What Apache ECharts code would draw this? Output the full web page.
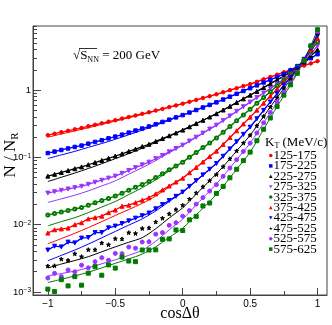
<!DOCTYPE html>
<html>
<head>
<meta charset="utf-8">
<script src="https://cdn.jsdelivr.net/npm/echarts@6/dist/echarts.min.js"></script>
<style>
html, body { margin: 0; padding: 0; background: #fff; }
#main { width: 332px; height: 325px; }
</style>
</head>
<body>
<div id="main"></div>
<script>
// cos(delta theta) of the measured points and of the fit curves
const cosPts = [-1, -0.95, -0.9, -0.85, -0.8, -0.75, -0.7, -0.65, -0.6, -0.55, -0.5, -0.45, -0.4, -0.35, -0.3, -0.25, -0.2, -0.15, -0.1, -0.05,
  0, 0.05, 0.1, 0.15, 0.2, 0.25, 0.3, 0.35, 0.4, 0.45, 0.5, 0.55, 0.6, 0.65, 0.7, 0.75, 0.8, 0.85, 0.9, 0.95, 1];
const cosFit = [-1, -0.9, -0.8, -0.7, -0.6, -0.5, -0.4, -0.3, -0.2, -0.1, 0, 0.1, 0.2, 0.3, 0.4, 0.5, 0.6, 0.7, 0.8, 0.9, 1];

// N / N_R, one array per kT bin (MeV/c)
const pts125 = [0.214,0.225,0.237,0.249,0.262,0.275,0.290,0.306,0.322,0.340,0.358,0.378,0.399,0.421,0.445,0.469,0.498,0.527,0.560,0.593,0.630,0.671,0.716,0.764,0.815,0.869,0.931,1.00,1.07,1.15,1.23,1.33,1.45,1.57,1.70,1.85,2.00,2.15,2.32,2.50,2.70];
const pts175 = [0.116,0.122,0.129,0.136,0.143,0.150,0.160,0.170,0.180,0.192,0.204,0.218,0.234,0.251,0.269,0.288,0.311,0.337,0.364,0.394,0.426,0.465,0.507,0.553,0.604,0.659,0.726,0.800,0.883,0.973,1.07,1.18,1.30,1.43,1.57,1.73,1.98,2.28,2.61,2.99,3.43];
const pts225 = [0.0527,0.0561,0.0598,0.0637,0.0679,0.0723,0.0778,0.0838,0.0902,0.0971,0.105,0.113,0.123,0.133,0.145,0.157,0.173,0.191,0.210,0.231,0.255,0.285,0.319,0.357,0.399,0.447,0.507,0.575,0.655,0.743,0.843,0.959,1.09,1.25,1.42,1.61,1.87,2.18,2.63,3.24,3.98];
const pts275 = [0.0295,0.0309,0.0324,0.0339,0.0355,0.0372,0.0398,0.0428,0.0458,0.0492,0.0527,0.0581,0.0640,0.0705,0.0775,0.0851,0.0957,0.107,0.121,0.136,0.152,0.175,0.200,0.230,0.264,0.302,0.353,0.414,0.484,0.568,0.664,0.776,0.906,1.06,1.24,1.45,1.74,2.14,2.69,3.47,4.57];
const pts325 = [0.0139,0.0147,0.0154,0.0163,0.0171,0.0180,0.0195,0.0211,0.0228,0.0246,0.0266,0.0294,0.0325,0.0359,0.0397,0.0439,0.0501,0.0572,0.0653,0.0745,0.0851,0.101,0.118,0.140,0.164,0.194,0.237,0.288,0.352,0.429,0.522,0.637,0.776,0.948,1.16,1.41,1.74,2.19,2.82,3.80,5.25];
const pts375 = [0.00750,0.00840,0.00865,0.00890,0.00998,0.0107,0.0122,0.0127,0.0134,0.0151,0.0165,0.0188,0.0195,0.0212,0.0231,0.0251,0.0287,0.0329,0.0376,0.0431,0.0492,0.0592,0.0711,0.0855,0.103,0.124,0.156,0.197,0.249,0.315,0.397,0.505,0.641,0.815,1.04,1.32,1.66,2.14,2.88,4.07,5.89];
const pts425 = [0.00420,0.00479,0.00467,0.00550,0.00536,0.00631,0.00644,0.00762,0.00764,0.00897,0.00953,0.0104,0.0114,0.0125,0.0136,0.0149,0.0172,0.0199,0.0229,0.0264,0.0305,0.0371,0.0451,0.0550,0.0668,0.0813,0.104,0.134,0.171,0.220,0.282,0.376,0.501,0.667,0.889,1.19,1.55,2.09,2.88,4.27,6.46];
const pts475 = [0.00243,0.00245,0.00308,0.00295,0.00370,0.00335,0.00425,0.00424,0.00535,0.00504,0.00620,0.00614,0.00762,0.00742,0.00879,0.00897,0.0110,0.0125,0.0145,0.0168,0.0195,0.0241,0.0297,0.0366,0.0452,0.0557,0.0730,0.0955,0.125,0.164,0.214,0.296,0.408,0.562,0.776,1.07,1.45,2.00,2.88,4.37,6.92];
const pts525 = [0.00161,0.00189,0.00169,0.00212,0.00199,0.00250,0.00228,0.00282,0.00323,0.00296,0.00374,0.00371,0.00465,0.00447,0.00552,0.00558,0.00723,0.00762,0.00978,0.0107,0.0134,0.0162,0.0202,0.0253,0.0316,0.0394,0.0524,0.0695,0.0925,0.123,0.163,0.231,0.327,0.465,0.658,0.933,1.29,1.86,2.82,4.47,7.41];
const pts575 = [0.00110,0.00101,0.00152,0.00123,0.00169,0.00126,0.00190,0.00238,0.00177,0.00252,0.00226,0.00330,0.00288,0.00282,0.00420,0.00420,0.00422,0.00606,0.00614,0.00835,0.00818,0.0118,0.0133,0.0190,0.0210,0.0291,0.0371,0.0498,0.0667,0.0895,0.120,0.177,0.262,0.386,0.571,0.843,1.20,1.78,2.75,4.57,7.94];

// fit curves
const fit125 = [0.200,0.223,0.248,0.276,0.309,0.346,0.388,0.436,0.491,0.556,0.630,0.716,0.815,0.931,1.07,1.23,1.45,1.70,2.00,2.32,2.70];
const fit175 = [0.0965,0.109,0.123,0.141,0.161,0.186,0.217,0.254,0.300,0.357,0.426,0.507,0.604,0.726,0.883,1.07,1.30,1.57,1.98,2.61,3.43];
const fit225 = [0.0438,0.0507,0.0586,0.0684,0.0807,0.0958,0.114,0.137,0.167,0.206,0.255,0.319,0.399,0.507,0.655,0.843,1.09,1.42,1.87,2.63,3.98];
const fit275 = [0.0214,0.0242,0.0274,0.0318,0.0377,0.0448,0.0563,0.0704,0.0898,0.117,0.152,0.200,0.264,0.353,0.484,0.664,0.906,1.24,1.74,2.69,4.57];
const fit325 = [0.00962,0.0111,0.0127,0.0151,0.0183,0.0221,0.0280,0.0355,0.0465,0.0629,0.0851,0.118,0.164,0.237,0.352,0.522,0.776,1.16,1.74,2.82,5.25];
const fit375 = [0.00519,0.00621,0.00744,0.00904,0.0111,0.0137,0.0168,0.0207,0.0267,0.0362,0.0492,0.0711,0.103,0.156,0.249,0.397,0.641,1.04,1.66,2.88,5.89];
const fit425 = [0.00291,0.00349,0.00420,0.00513,0.00638,0.00793,0.00984,0.0122,0.0160,0.0221,0.0305,0.0451,0.0668,0.104,0.171,0.282,0.501,0.889,1.55,2.88,6.46];
const fit475 = [0.00227,0.00260,0.00293,0.00334,0.00395,0.00468,0.00548,0.00641,0.00870,0.0126,0.0178,0.0284,0.0452,0.0730,0.125,0.214,0.408,0.776,1.45,2.88,6.92];
const fit525 = [0.00173,0.00188,0.00204,0.00229,0.00262,0.00300,0.00350,0.00418,0.00567,0.00838,0.0121,0.0197,0.0316,0.0524,0.0925,0.163,0.327,0.658,1.29,2.82,7.41];
const fit575 = [0.00138,0.00154,0.00173,0.00196,0.00228,0.00266,0.00310,0.00365,0.00469,0.00646,0.00889,0.0140,0.0221,0.0371,0.0667,0.120,0.262,0.571,1.20,2.75,7.94];

// tick positions
const xMajor = [-1, -0.5, 0, 0.5, 1];
const xMinor = [-0.75, -0.25, 0.25, 0.75];
const yMajor = [0.001, 0.01, 0.1, 1];
const yMinor = [0.002,0.003,0.004,0.005,0.006,0.007,0.008,0.009,0.02,0.03,0.04,0.05,0.06,0.07,0.08,0.09,0.2,0.3,0.4,0.5,0.6,0.7,0.8,0.9,2,3,4,5,6,7,8,9];

const triDown = 'path://M0,0 L10,0 L5,9 Z';
const star = 'path://M5,0 L6.2,3.6 L10,3.6 L6.9,5.8 L8.1,9.5 L5,7.2 L1.9,9.5 L3.1,5.8 L0,3.6 L3.8,3.6 Z';

// dense: points close enough to read as a band, drawn joined
const bins = [
  { name: '125-175', pts: pts125, fit: fit125, color: '#ff0000', symbol: 'circle', size: 3.5, dense: true },
  { name: '175-225', pts: pts175, fit: fit175, color: '#0000ff', symbol: 'rect', size: 3.5, dense: true },
  { name: '225-275', pts: pts225, fit: fit225, color: '#000000', symbol: 'triangle', size: 4, dense: true },
  { name: '275-325', pts: pts275, fit: fit275, color: '#9933ff', symbol: triDown, size: 4, dense: true },
  { name: '325-375', pts: pts325, fit: fit325, color: '#007a00', symbol: 'emptyCircle', size: 3, dense: true },
  { name: '375-425', pts: pts375, fit: fit375, color: '#ff0000', symbol: 'triangle', size: 4, dense: true },
  { name: '425-475', pts: pts425, fit: fit425, color: '#0000ff', symbol: triDown, size: 4, dense: true },
  { name: '475-525', pts: pts475, fit: fit475, color: '#000000', symbol: star, size: 4, dense: false },
  { name: '525-575', pts: pts525, fit: fit525, color: '#9933ff', symbol: 'circle', size: 4, dense: false },
  { name: '575-625', pts: pts575, fit: fit575, color: '#007a00', symbol: 'rect', size: 4, dense: false }
];

const serif = '"Liberation Serif", "DejaVu Serif", serif';
const sans = '"Liberation Sans", Arial, sans-serif';

function minus(v) {
  return v < 0 ? '\u2212' + (-v) : String(v);
}

function powLabel(v) {
  const e = Math.round(Math.log10(v));
  if (e === 0) return '{b|1}';
  return '{b|10}{s|' + minus(e) + '}';
}

const series = [];
bins.forEach(b => {
  series.push({
    name: 'fit ' + b.name,
    type: 'line',
    smooth: 0.3,
    showSymbol: false,
    silent: true,
    z: 2,
    lineStyle: { color: b.color, width: 1 },
    data: cosFit.map((c, i) => [c, b.fit[i]])
  });
});
bins.forEach(b => {
  series.push({
    name: b.name,
    type: 'line',
    symbol: b.symbol,
    symbolSize: b.size,
    showAllSymbol: true,
    z: 3,
    lineStyle: { color: b.color, width: b.dense ? 1.3 : 0 },
    itemStyle: { color: b.color, borderColor: b.color, opacity: 1 },
    data: cosPts.map((c, i) => [c, b.pts[i]])
  });
});

const chart = echarts.init(document.getElementById('main'), null, { renderer: 'canvas' });
chart.setOption({
  animation: false,
  backgroundColor: '#fff',
  textStyle: { fontFamily: sans },
  grid: {
    left: 33, right: 5, top: 26, bottom: 30,
    outerBoundsMode: 'none', containLabel: false,
    show: true, borderColor: '#444', borderWidth: 1, backgroundColor: 'transparent'
  },
  legend: {
    data: bins.map(b => ({ name: b.name, icon: b.symbol === 'emptyCircle' ? 'circle' : b.symbol })),
    orient: 'vertical',
    left: 269, top: 149, padding: 0,
    itemWidth: 3.5, itemHeight: 3.5, itemGap: -2.6,
    selectedMode: false,
    textStyle: { fontFamily: serif, fontSize: 13, color: '#000', padding: [0, 0, 0, -4] }
  },
  xAxis: [{
    type: 'value', min: -1.11, max: 1.07, position: 'bottom',
    name: 'cos\u0394\u03b8', nameLocation: 'middle', nameGap: 11, nameMoveOverlap: false,
    nameTextStyle: { fontFamily: serif, fontSize: 16, color: '#000' },
    axisLine: { onZero: false, lineStyle: { color: '#444' } },
    axisTick: { inside: true, length: 7, customValues: xMajor, lineStyle: { color: '#444' } },
    axisLabel: { customValues: xMajor, margin: 4, fontSize: 10, color: '#000', formatter: minus },
    splitLine: { show: false }
  }, {
    type: 'value', min: -1.11, max: 1.07, position: 'bottom',
    axisLine: { show: false, onZero: false },
    axisTick: { inside: true, length: 4, customValues: xMinor, lineStyle: { color: '#444' } },
    axisLabel: { show: false },
    splitLine: { show: false }
  }],
  yAxis: [{
    type: 'log', logBase: 10, min: 0.0009, max: 9, position: 'left',
    axisLine: { show: true, onZero: false, lineStyle: { color: '#444' } },
    axisTick: { show: true, inside: true, length: 8, customValues: yMajor, lineStyle: { color: '#444' } },
    axisLabel: {
      customValues: yMajor, margin: 2, color: '#000', formatter: powLabel,
      rich: {
        b: { fontSize: 9.5, fontFamily: sans },
        s: { fontSize: 6.5, fontFamily: sans, verticalAlign: 'top' }
      }
    },
    splitLine: { show: false }
  }, {
    type: 'log', logBase: 10, min: 0.0009, max: 9, position: 'left',
    axisLine: { show: false, onZero: false },
    axisTick: { show: true, inside: true, length: 4, customValues: yMinor, lineStyle: { color: '#444' } },
    axisLabel: { show: false },
    splitLine: { show: false }
  }],
  graphic: [
    {
      type: 'text', x: 11, y: 155, rotation: Math.PI / 2,
      style: {
        text: '{n|N / N}{r|R}', align: 'center', verticalAlign: 'middle',
        rich: {
          n: { fontFamily: serif, fontSize: 17, fill: '#000', lineHeight: 20, verticalAlign: 'middle' },
          r: { fontFamily: serif, fontSize: 11, fill: '#000', lineHeight: 20, verticalAlign: 'bottom' }
        }
      }
    },
    {
      type: 'text', x: 73, y: 56,
      style: {
        text: '{t|\u221a}{t|S}{s|NN}{t| = 200 GeV}', verticalAlign: 'middle',
        rich: {
          t: { fontFamily: serif, fontSize: 13, fill: '#000', lineHeight: 16, verticalAlign: 'middle' },
          s: { fontFamily: serif, fontSize: 8, fill: '#000', lineHeight: 16, verticalAlign: 'bottom' }
        }
      }
    },
    {
      type: 'line', shape: { x1: 79, y1: 48.5, x2: 97, y2: 48.5 },
      style: { stroke: '#000', lineWidth: 0.8 }
    },
    {
      type: 'text', x: 265, y: 143,
      style: {
        text: '{t|K}{s|T}{t| (MeV/c)}', verticalAlign: 'middle',
        rich: {
          t: { fontFamily: serif, fontSize: 13, fill: '#000', lineHeight: 14, verticalAlign: 'middle' },
          s: { fontFamily: serif, fontSize: 8, fill: '#000', lineHeight: 14, verticalAlign: 'bottom' }
        }
      }
    }
  ],
  series: series
});
</script>
</body>
</html>
